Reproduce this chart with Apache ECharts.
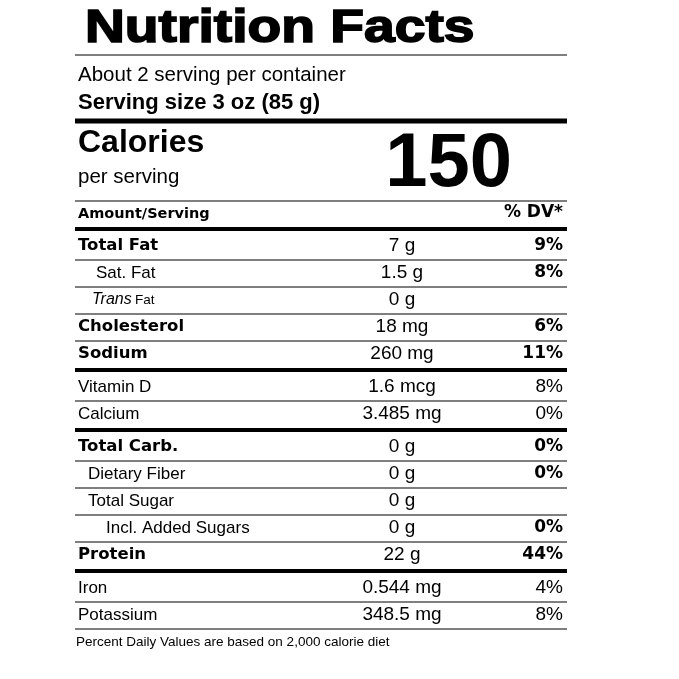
<!DOCTYPE html>
<html><head><meta charset="utf-8">
<script src="https://cdn.jsdelivr.net/npm/echarts@6/dist/echarts.min.js"></script>
<style>html,body{margin:0;padding:0;background:#fff}#c{width:679px;height:679px}</style>
</head><body><div id="c"></div>
<script>
const title = 'Nutrition Facts';
const servingsText = 'About 2 serving per container';
const servingSize = 'Serving size 3 oz (85 g)';
const calories = '150';
const rowLabels = ['Total Fat','Sat. Fat','Trans Fat','Cholesterol','Sodium','Vitamin D','Calcium','Total Carb.','Dietary Fiber','Total Sugar','Incl. Added Sugars','Protein','Iron','Potassium'];
const rowAmounts = ['7 g','1.5 g','0 g','18 mg','260 mg','1.6 mcg','3.485 mg','0 g','0 g','0 g','0 g','22 g','0.544 mg','348.5 mg'];
const rowDV = ['9%','8%','','6%','11%','8%','0%','0%','0%','','0%','44%','4%','8%'];
const footnote = 'Percent Daily Values are based on 2,000 calorie diet';

// styling (not data)
const rowBold = [1,0,0,1,1,0,0,1,0,0,0,1,0,0];
const dvBold = [1,1,0,1,1,0,0,1,1,0,1,1,0,0];
const rowIndent = [0,18,14,0,0,0,0,0,10,10,28,0,0,0];
const thickAfter = [4,6,11];

const L = 75, R = 567, F = 'Liberation Sans, Arial, sans-serif', FB = 'DejaVu Sans, sans-serif';
const els = [];
function line(y, w){ els.push({type:'rect', shape:{x:L,y:y-w/2,width:R-L,height:w}, style:{fill:'#000'}}); }
function text(x, y, t, size, weight, align, fam, extra){
  els.push(Object.assign({type:'text', x:x, y:y, style:{text:t, font:(weight||'normal')+' '+size+'px '+(fam||F), fill:'#000', textAlign:align||'left', textVerticalAlign:'middle'}}, extra||{}));
}
text(85, 29, title, 46, 'bold', 'left', F, {scaleX:1.2, style:{text:title, font:'bold 46px '+F, fill:'#000', stroke:'#000', lineWidth:1.6, textVerticalAlign:'middle'}});
line(55, 1);
text(L+3, 75, servingsText, 20.5);
text(L+3, 103, servingSize, 22, 'bold');
line(121, 5);
text(L+3, 143, 'Calories', 32, 'bold');
text(L+3, 177, 'per serving', 20.5);
text(512, 165, calories, 76, 'bold', 'right');
line(201, 1);
text(L+3, 214, 'Amount/Serving', 14.5, 'bold', 'left', FB);
text(563, 213, '% DV*', 17, 'bold', 'right', FB);
line(229, 4);
let y = 246;
rowLabels.forEach((lab, i) => {
  const x = L + 3 + rowIndent[i];
  if (lab === 'Trans Fat') {
    els.push({type:'text', x:x, y:y, style:{rich:{a:{font:'italic 16px '+F, fill:'#000'}, b:{font:'13.5px '+F, fill:'#000'}}, text:'{a|Trans} {b|Fat}', textVerticalAlign:'middle'}});
  } else if (rowBold[i]) {
    text(x, y, lab, 16.5, 'bold', 'left', FB);
  } else {
    text(x, y, lab, 17);
  }
  text(402, y, rowAmounts[i], 19, 'normal', 'center');
  if (rowDV[i]) text(563, y, rowDV[i], dvBold[i] ? 17 : 19, dvBold[i] ? 'bold' : 'normal', 'right', dvBold[i] ? FB : F);
  if (thickAfter.includes(i)) { line(y + 16, 4); y += 33; }
  else { line(y + 14, 1); y += 27; }
});
text(L+1, 642, footnote, 13.5);

const chart = echarts.init(document.getElementById('c'));
chart.setOption({animation:false, graphic:{elements:els}});
</script></body></html>
